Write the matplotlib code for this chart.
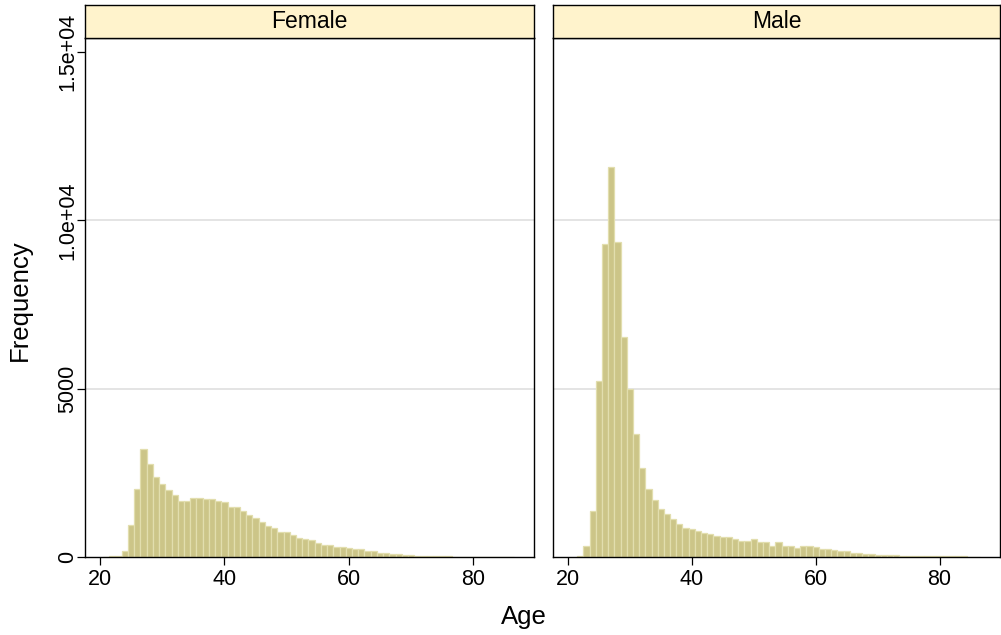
import matplotlib
matplotlib.use("Agg")
import matplotlib.pyplot as plt
import numpy as np

plt.rcParams['font.family'] = ['Liberation Sans', 'DejaVu Sans']

# ---- data (histogram counts per 1-year age bin) ----
panels = ["Female", "Male"]

female_ages = list(range(21, 87))
female_counts = [5, 15, 40, 190, 965, 2030, 3210, 2765, 2370, 2160,
                 1990, 1830, 1675, 1655, 1740, 1755, 1720, 1720, 1675, 1620,
                 1480, 1480, 1380, 1255, 1150, 1030, 930, 870, 740, 735,
                 640, 550, 520, 505, 425, 360, 350, 306, 287, 280,
                 247, 227, 188, 168, 129, 119, 100, 79, 60, 48,
                 38, 30, 25, 20, 18, 15, 13, 12, 10, 10,
                 8, 8, 7, 6, 5, 4]

male_ages = list(range(22, 87))
male_counts = [40, 330, 1370, 5230, 9290, 11590, 9360, 6550, 4980, 3650,
               2630, 2030, 1690, 1440, 1280, 1130, 995, 870, 820, 780,
               720, 673, 633, 593, 590, 524, 484, 480, 524, 435,
               435, 340, 435, 340, 336, 277, 326, 320, 290, 237,
               227, 220, 185, 165, 128, 109, 99, 89, 70, 65,
               58, 55, 42, 40, 38, 35, 28, 25, 25, 22,
               22, 20, 15, 12, 10]

x_ticks = [20, 40, 60, 80]
y_ticks = [0, 5000, 10000, 15000]
y_ticklabels = ["0", "5000", "1.0e+04", "1.5e+04"]
grid_levels = [5000, 10000]

# ---- layout ----
W, H = 1001, 635
fig = plt.figure(figsize=(W / 100, H / 100), dpi=100)

bar_fill = "#CCC588"
bar_edge = "#E2DEAE"
strip_col = "#FFF3CC"

panel_px = [(85, 534), (553, 1000)]
top_px, bot_px, strip_top_px = 38, 557, 5
xlim = (17.6, 89.75)
ylim = (0, 15420)

data = [(female_ages, female_counts), (male_ages, male_counts)]

for i, (name, (ages, counts), (x0, x1)) in enumerate(zip(panels, data, panel_px)):
    ax = fig.add_axes([x0 / W, (H - bot_px) / H, (x1 - x0) / W, (bot_px - top_px) / H])
    for g in grid_levels:
        ax.axhline(g, color="#DCDCDC", lw=1.1, zorder=0)
    ax.bar(ages, counts, width=1.0, color=bar_fill, edgecolor=bar_edge,
           linewidth=0.9, zorder=2)
    ax.set_xlim(*xlim)
    ax.set_ylim(*ylim)
    ax.set_xticks(x_ticks)
    ax.set_xticklabels([str(t) for t in x_ticks], fontsize=15.5)
    ax.tick_params(axis="x", direction="out", length=5.5, width=0.9, pad=3, colors="black")
    if i == 0:
        ax.set_yticks(y_ticks)
        ax.set_yticklabels(y_ticklabels, fontsize=15.5, rotation=90, va="center")
        ax.tick_params(axis="y", direction="out", length=5.5, width=0.9, pad=-0.5)
    else:
        ax.set_yticks([])
    for s in ax.spines.values():
        s.set_linewidth(1.0)
        s.set_color("black")
    ax.set_facecolor("white")

    sax = fig.add_axes([x0 / W, (H - top_px) / H, (x1 - x0) / W, (top_px - strip_top_px) / H])
    sax.set_facecolor(strip_col)
    sax.set_xticks([])
    sax.set_yticks([])
    for s in sax.spines.values():
        s.set_linewidth(1.0)
        s.set_color("black")
    sax.text(0.5, 0.5, name, ha="center", va="center", fontsize=16.5, transform=sax.transAxes)

fig.text(524 / W, 1 - 617 / H, "Age", ha="center", va="center", fontsize=18.5)
fig.text(20 / W, 1 - 300 / H, "Frequency", ha="center", va="center", rotation=90, fontsize=18.5)

fig.savefig("out.png", dpi=100)
